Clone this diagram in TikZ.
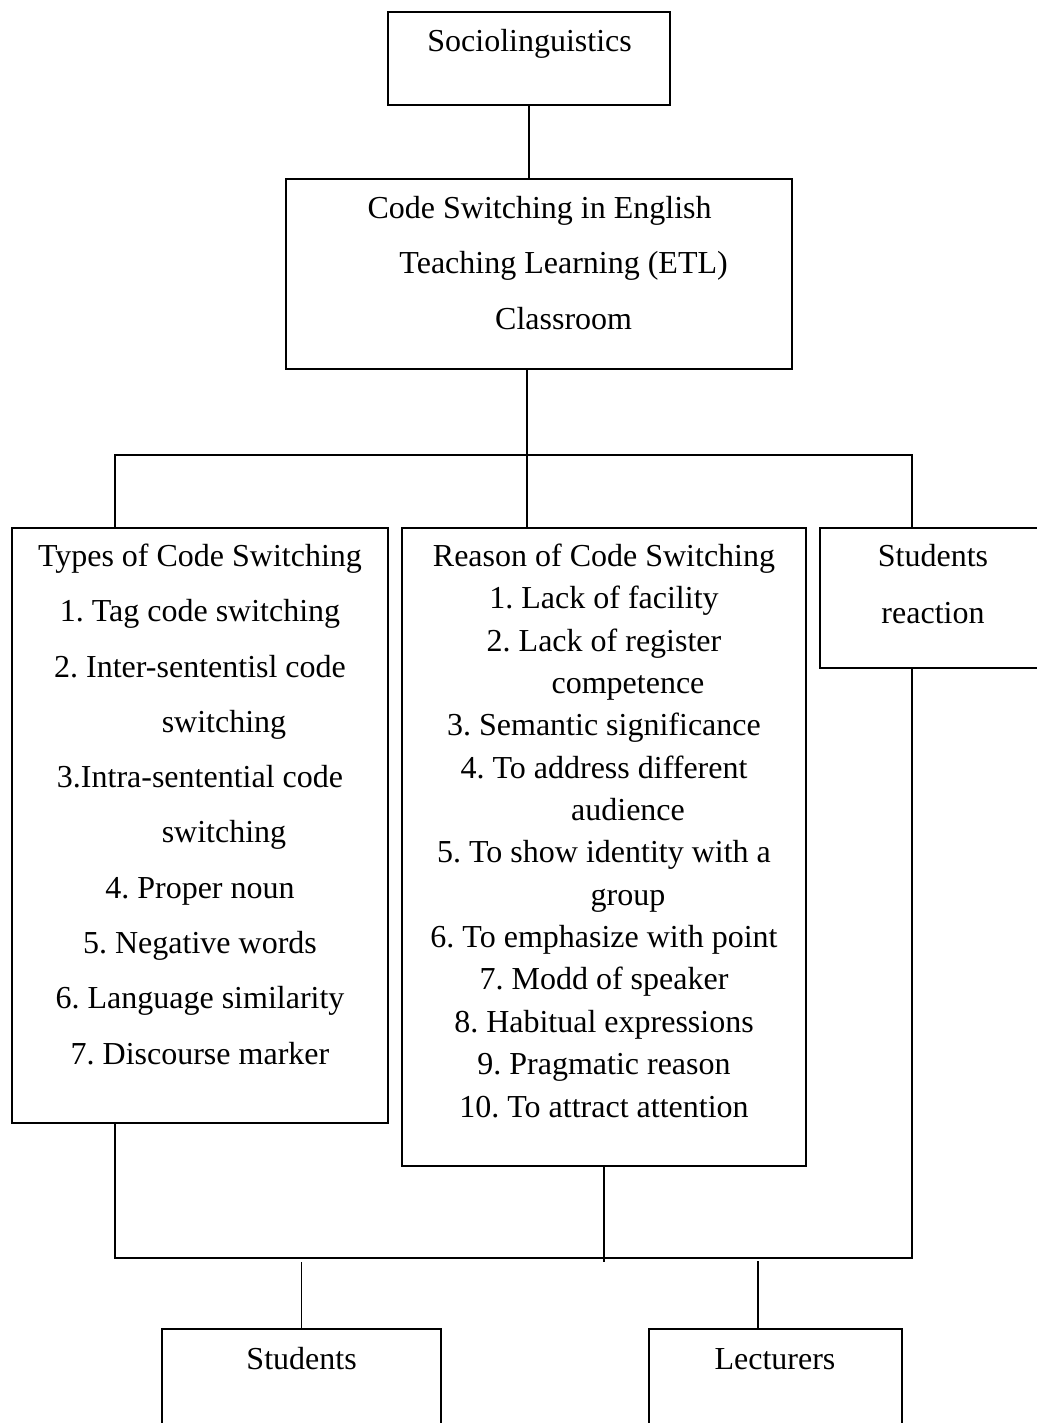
\documentclass[tikz,border=0pt]{standalone}
\usepackage{fontspec}
\setmainfont{Liberation Serif}
\usetikzlibrary{positioning}
\frenchspacing

\begin{document}
\begin{tikzpicture}[x=0.5pt, y=-0.5pt, thick,
	box/.style={draw, inner sep=0pt},
	txt/.style={font=\fontsize{16}{27.7}\selectfont, align=center, inner sep=0pt, anchor=base}]

	\useasboundingbox (0,0) rectangle (1037,1423);
	\clip (0,0) rectangle (1037,1423);

	%% Top (text nodes sit on the baseline of their last line)
	\node[box, minimum width=141pt, minimum height=46.5pt] (socio) at (529,58.5) {};
	\node[txt] (socio_txt) at (529.6,51.7) {Sociolinguistics};

	\node[box, minimum width=253pt, minimum height=95pt] (code_sw) at (539,274) {};
	\node[txt, font=\fontsize{16}{27.8}\selectfont] (code_txt) at (539.6,329.5)
		{Code Switching in English\\ \hspace*{1.5em}Teaching Learning (ETL)\\ \hspace*{1.5em}Classroom};

	\draw (socio.south) -- (socio.south |- code_sw.north);

	%% Middle
	\node[box, minimum width=188pt, minimum height=297.5pt] (types_cs) at (200,825.5) {};
	\node[txt, font=\fontsize{16}{27.63}\selectfont] (types_txt) at (200,1064)
		{Types of Code Switching\\ 1. Tag code switching\\ 2. Inter-sententisl code\\
		\hspace*{1.5em}switching\\ 3.Intra-sentential code\\ \hspace*{1.5em}switching\\
		4. Proper noun\\ 5. Negative words\\ 6. Language similarity\\ 7. Discourse marker};

	\node[box, minimum width=202pt, minimum height=319pt] (reason_cs) at (604,847) {};
	\node[txt, font=\fontsize{16}{21.17}\selectfont] (reason_txt) at (604,1117)
		{Reason of Code Switching\\ 1. Lack of facility\\ 2. Lack of register\\
		\hspace*{1.5em}competence\\ 3. Semantic significance\\ 4. To address different\\
		\hspace*{1.5em}audience\\ 5. To show identity with a\\ \hspace*{1.5em}group\\
		6. To emphasize with point\\ 7. Modd of speaker\\ 8. Habitual expressions\\
		9. Pragmatic reason\\ 10. To attract attention};

	\node[box, minimum width=113pt, minimum height=70pt] (stu_react) at (933,598) {};
	\node[txt, font=\fontsize{16}{28.5}\selectfont] (react_txt) at (933,623.7) {Students\\ reaction};

	\coordinate (top_bar) at (527,455);
	\coordinate (bar_l) at (115,455);
	\coordinate (bar_r) at (912,455);
	\draw (code_sw.south -| top_bar) -- (top_bar) -- (top_bar |- reason_cs.north);
	\draw (types_cs.north -| bar_l) -- (bar_l) -- (bar_r) -- (stu_react.north -| bar_r);

	%% Bottom
	\node[box, minimum width=139.5pt, minimum height=60.5pt] (students) at (301.5,1389.5) {};
	\node[txt] (students_txt) at (301.6,1369) {Students};

	\node[box, minimum width=126.5pt, minimum height=60.5pt] (lecturers) at (775.5,1389.5) {};
	\node[txt] (lect_txt) at (775,1369) {Lecturers};

	\coordinate (bot_l) at (115,1258);
	\coordinate (bot_r) at (912,1258);
	\coordinate (bot_end) at (604,1262);
	\coordinate (stu_top) at (301.6,1262);
	\coordinate (lect_top) at (758,1261);
	\draw (types_cs.south -| bot_l) -- (bot_l) -- (bot_r) -- (stu_react.south -| bot_r);
	\draw (reason_cs.south) -- (bot_end);
	\draw (stu_top) -- (stu_top |- students.north);
	\draw (lect_top) -- (lect_top |- lecturers.north);

\end{tikzpicture}
\end{document}
